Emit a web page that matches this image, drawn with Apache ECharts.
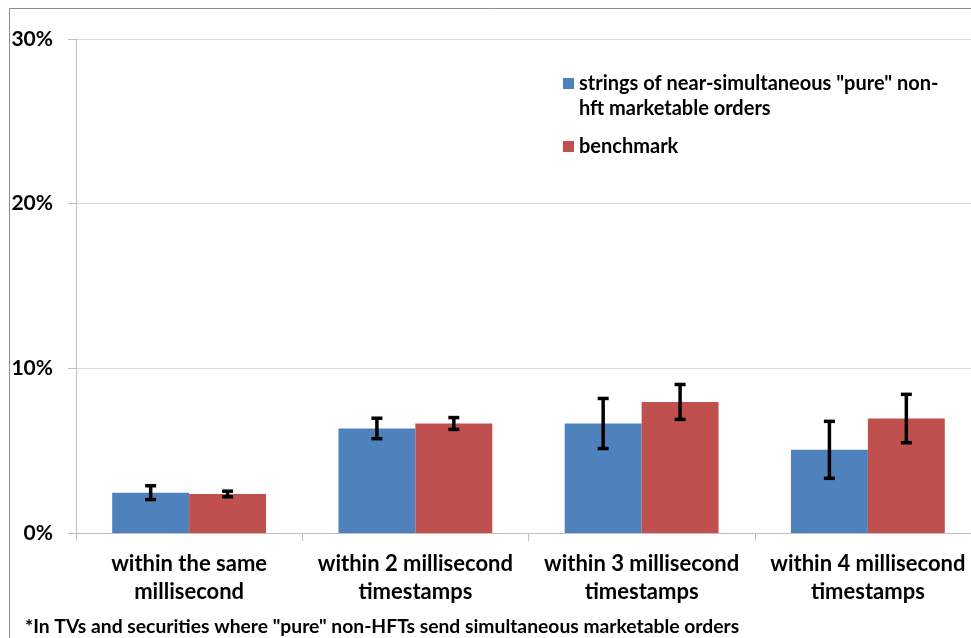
<!DOCTYPE html>
<html>
<head>
<meta charset="utf-8">
<script src="https://cdn.jsdelivr.net/npm/echarts@6/dist/echarts.min.js"></script>
<style>
  html, body { margin: 0; padding: 0; background: #fff; }
  #chart { width: 971px; height: 638px; }
</style>
</head>
<body>
<div id="chart"></div>
<script>
// Share of orders (%) by time window, with error-bar half-widths
const categories = [
  'within the same\nmillisecond',
  'within 2 millisecond\ntimestamps',
  'within 3 millisecond\ntimestamps',
  'within 4 millisecond\ntimestamps'
];
const pureValues = [2.45, 6.35, 6.65, 5.05];
const pureErr = [0.42, 0.62, 1.52, 1.73];
const benchValues = [2.37, 6.65, 7.96, 6.95];
const benchErr = [0.17, 0.36, 1.06, 1.47];
const yTicks = [0, 10, 20, 30];

const pureName = 'strings of near-simultaneous "pure" non-\nhft marketable orders';
const benchName = 'benchmark';
const FONT = 'Lato, "Open Sans", sans-serif';

const chart = echarts.init(document.getElementById('chart'));

// Error bars drawn at the centre of each bar in a pair
function errorSeries(name, values, errs, offsetSign) {
  return {
    type: 'custom',
    name: name + ' err',
    z: 10,
    silent: true,
    data: values.map((v, i) => [i, v - errs[i], v + errs[i]]),
    renderItem: function (params, api) {
      const idx = api.value(0);
      const lo = api.coord([idx, api.value(1)]);
      const hi = api.coord([idx, api.value(2)]);
      const bandW = api.size([1, 0])[0];
      const barW = bandW * 0.34;
      const x = lo[0] + offsetSign * barW / 2;
      const cap = 5.5;
      const style = { stroke: '#000', lineWidth: 3.5 };
      return {
        type: 'group',
        children: [
          { type: 'line', shape: { x1: x, y1: lo[1], x2: x, y2: hi[1] }, style: style },
          { type: 'line', shape: { x1: x - cap, y1: lo[1], x2: x + cap, y2: lo[1] }, style: style },
          { type: 'line', shape: { x1: x - cap, y1: hi[1], x2: x + cap, y2: hi[1] }, style: style }
        ]
      };
    }
  };
}

const legendText = {
  fontFamily: FONT,
  fontWeight: 'bold',
  fontSize: 20,
  color: '#000',
  lineHeight: 25
};

chart.setOption({
  animation: false,
  backgroundColor: '#fff',
  grid: { left: 76, top: 39, width: 905, height: 494, outerBoundsMode: 'none' },
  legend: [
    {
      // two-line entry: square sits beside the first line
      left: 558,
      top: 66,
      itemWidth: 11,
      itemHeight: 50,
      data: [{
        name: pureName,
        icon: 'path://M0,0L0.01,0M0,7L11,7L11,18L0,18ZM0,50L0.01,50'
      }],
      textStyle: legendText
    },
    {
      left: 558,
      top: 129,
      itemWidth: 11,
      itemHeight: 11,
      icon: 'rect',
      data: [benchName],
      textStyle: legendText
    }
  ],
  graphic: [
    {
      type: 'polyline',
      shape: { points: [[9.5, 640], [9.5, 8.5], [975, 8.5]] },
      style: { stroke: '#8c8c8c', lineWidth: 1, fill: null }
    },
    {
      type: 'text',
      left: 25,
      top: 617,
      style: {
        text: '*In TVs and securities where "pure" non-HFTs send simultaneous marketable orders',
        fontFamily: FONT,
        fontWeight: 'bold',
        fontSize: 19.3,
        fill: '#000'
      }
    }
  ],
  xAxis: {
    type: 'category',
    data: categories,
    axisLine: { lineStyle: { color: '#bfbfbf', width: 1 } },
    axisTick: { show: true, length: 8, lineStyle: { color: '#bfbfbf' } },
    axisLabel: {
      interval: 0,
      margin: 17,
      fontFamily: FONT,
      fontWeight: 'bold',
      fontSize: 22,
      color: '#000',
      lineHeight: 28
    }
  },
  yAxis: {
    type: 'value',
    min: yTicks[0],
    max: yTicks[yTicks.length - 1],
    interval: 10,
    axisLine: { show: true, lineStyle: { color: '#bfbfbf', width: 1 } },
    axisTick: { show: true, length: 8, lineStyle: { color: '#bfbfbf' } },
    splitLine: { show: true, lineStyle: { color: '#d9d9d9', width: 1 } },
    axisLabel: {
      margin: 23,
      formatter: '{value}%',
      fontFamily: FONT,
      fontWeight: 'bold',
      fontSize: 21,
      color: '#000'
    }
  },
  series: [
    {
      name: pureName,
      type: 'bar',
      data: pureValues,
      barWidth: '34%',
      barGap: '0%',
      itemStyle: { color: '#4F81BD' }
    },
    {
      name: benchName,
      type: 'bar',
      data: benchValues,
      barWidth: '34%',
      barGap: '0%',
      itemStyle: { color: '#C0504D' }
    },
    errorSeries('pure', pureValues, pureErr, -1),
    errorSeries('bench', benchValues, benchErr, 1)
  ]
});
</script>
</body>
</html>
